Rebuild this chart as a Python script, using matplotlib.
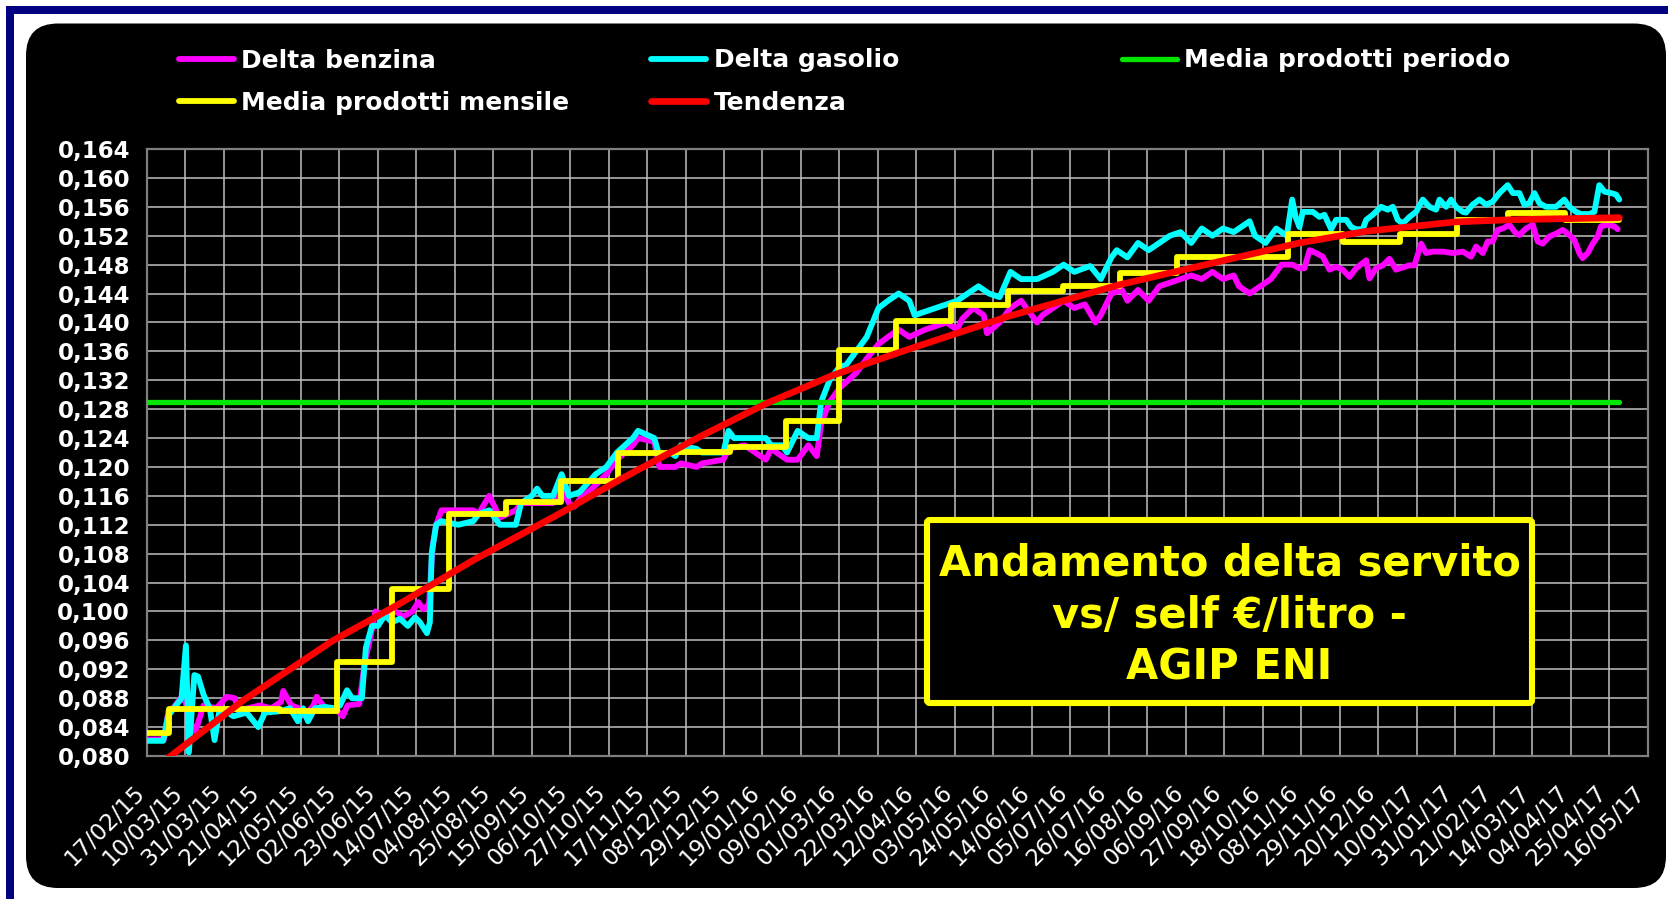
import numpy as np
import matplotlib
matplotlib.use('Agg')
import matplotlib.pyplot as plt
from matplotlib.patches import FancyBboxPatch, Rectangle
from matplotlib.transforms import IdentityTransform, ScaledTranslation
from matplotlib.ticker import FuncFormatter

# giorni contati dal 17/02/2015
etichette_date = ['17/02/15', '10/03/15', '31/03/15', '21/04/15', '12/05/15', '02/06/15',
                  '23/06/15', '14/07/15', '04/08/15', '25/08/15', '15/09/15', '06/10/15',
                  '27/10/15', '17/11/15', '08/12/15', '29/12/15', '19/01/16', '09/02/16',
                  '01/03/16', '22/03/16', '12/04/16', '03/05/16', '24/05/16', '14/06/16',
                  '05/07/16', '26/07/16', '16/08/16', '06/09/16', '27/09/16', '18/10/16',
                  '08/11/16', '29/11/16', '20/12/16', '10/01/17', '31/01/17', '21/02/17',
                  '14/03/17', '04/04/17', '25/04/17', '16/05/17']

giorni_benzina = [0, 9.5, 11.8, 15, 18.4, 21.2, 23, 26.6, 31, 38, 43.7, 48, 51, 55, 61.7, 68,
                  73.3, 74.5, 78.9, 84.3, 86, 91, 92.7, 97.3, 102.8, 107, 109.6, 116, 119, 121.7,
                  124.8, 130, 135.6, 140, 145, 148.2, 151, 154, 156, 158, 160.8, 178.2, 181,
                  186.9, 192.7, 201.4, 204.3, 221.7, 226.4, 230.4, 233.3, 236.2, 245, 250.8,
                  256.6, 265.3, 268.1, 276.9, 279.8, 288.5, 291.4, 300.1, 303, 314.6, 317.5,
                  326.2, 337.8, 340.7, 346.5, 349.4, 355.2, 361, 365.6, 368, 372.6, 378.4,
                  387.1, 392.9, 399.3, 404.5, 410.3, 416.1, 424.8, 436.4, 442.2, 445, 451,
                  456.7, 458.5, 465.4, 471.3, 477.1, 485.8, 488.7, 494.5, 500.3, 506.1, 511.9,
                  517.7, 520.6, 526.4, 532.2, 535.1, 540.9, 546.7, 552.5, 558.3, 564.1, 569.9,
                  575.7, 581.5, 587.3, 593.1, 596, 601.8, 607.6, 613.4, 619.2, 625, 629, 631.7,
                  634.5, 638.1, 641.7, 645.4, 649, 652.6, 656.3, 659.9, 665.4, 667.2, 670.8,
                  674.5, 678.1, 681.7, 689, 691.7, 695.4, 698.1, 701.7, 707.2, 712.6, 718.1,
                  722.6, 725.4, 729, 731.7, 734.4, 737.2, 739.9, 743.5, 747.2, 749, 752.6,
                  756.3, 759, 761.7, 765.4, 769, 772.6, 776.3, 779, 781.7, 783.5, 786.3, 789,
                  791.7, 793.5, 797.2, 800.8, 802.6]
delta_benzina = [0.0823, 0.0823, 0.0862, 0.0868, 0.0880, 0.0875, 0.0850, 0.0834, 0.0870, 0.0866,
                 0.0882, 0.0880, 0.0858, 0.0866, 0.0870, 0.0866, 0.0875, 0.0890, 0.0870, 0.0865,
                 0.0855, 0.0870, 0.0882, 0.0866, 0.0866, 0.0855, 0.0870, 0.0872, 0.0930, 0.0960,
                 0.1000, 0.0995, 0.1000, 0.0993, 0.1000, 0.1013, 0.1003, 0.1010, 0.1090, 0.1120,
                 0.1140, 0.1140, 0.1135, 0.1160, 0.1130, 0.1140, 0.1150, 0.1150, 0.1170, 0.1150,
                 0.1145, 0.1155, 0.1175, 0.1190, 0.1210, 0.1230, 0.1240, 0.1235, 0.1200, 0.1200,
                 0.1205, 0.1200, 0.1205, 0.1210, 0.1225, 0.1230, 0.1210, 0.1225, 0.1215, 0.1210,
                 0.1210, 0.1230, 0.1215, 0.1260, 0.1290, 0.1310, 0.1330, 0.1350, 0.1370, 0.1380,
                 0.1390, 0.1380, 0.1390, 0.1400, 0.1390, 0.1405, 0.1420, 0.1410, 0.1385, 0.1400,
                 0.1420, 0.1430, 0.1400, 0.1410, 0.1420, 0.1430, 0.1420, 0.1425, 0.1400, 0.1410,
                 0.1440, 0.1445, 0.1430, 0.1445, 0.1430, 0.1450, 0.1455, 0.1460, 0.1465, 0.1460,
                 0.1470, 0.1460, 0.1465, 0.1450, 0.1440, 0.1450, 0.1460, 0.1480, 0.1480, 0.1475,
                 0.1475, 0.1500, 0.1496, 0.1491, 0.1473, 0.1477, 0.1473, 0.1463, 0.1475, 0.1486,
                 0.1461, 0.1475, 0.1479, 0.1488, 0.1473, 0.1479, 0.1479, 0.1509, 0.1496, 0.1498,
                 0.1498, 0.1496, 0.1498, 0.1491, 0.1505, 0.1496, 0.1512, 0.1512, 0.1528, 0.1530,
                 0.1535, 0.1523, 0.1521, 0.1530, 0.1535, 0.1512, 0.1509, 0.1519, 0.1523, 0.1528,
                 0.1521, 0.1514, 0.1496, 0.1489, 0.1496, 0.1509, 0.1519, 0.1533, 0.1535, 0.1533,
                 0.1529]

giorni_gasolio = [0, 9, 11.6, 15.4, 19, 21.4, 23, 26, 28, 31, 34.5, 37, 39.5, 43, 47.3, 54.5,
                  60.9, 64.5, 72.7, 78.2, 82.5, 85.3, 88, 91.8, 97.3, 102.7, 105.5, 109.3, 112,
                  117.4, 119.6, 122.9, 126.2, 130, 133.8, 138.2, 142.5, 146.4, 149.1, 152.9,
                  154.5, 155.5, 157.9, 160.8, 170, 178.2, 181.1, 186.9, 192.7, 201.4, 204.3,
                  210.1, 213, 215.9, 221.7, 226.4, 230.4, 236.2, 245, 250.8, 256.6, 265.3,
                  268.1, 276.9, 279.8, 285.6, 288.5, 291.4, 300.1, 303, 314.6, 317.5, 320.4,
                  326.2, 337.8, 340.7, 346.5, 349.4, 355.2, 361, 365.6, 368, 372.6, 378.4,
                  381.3, 387.1, 392.9, 399.3, 404.5, 410.3, 416.1, 419, 424.8, 430.6, 436.4,
                  442.2, 448, 453.8, 459.6, 465.4, 471.3, 477.1, 485.8, 494.5, 500.3, 506.1,
                  514.8, 520.6, 526.4, 529.3, 535.1, 540.9, 546.7, 552.5, 558.3, 564.1, 569.9,
                  575.7, 581.5, 587.3, 593.1, 596, 601.8, 604.7, 610.5, 616.3, 622.1, 625, 627,
                  629, 630.8, 636.3, 639.9, 642.6, 646.3, 649, 654.5, 657.2, 659.9, 663.5,
                  665.4, 669, 673.5, 677.2, 679.9, 682.6, 685.4, 689, 692.6, 696.3, 699.9,
                  703.5, 705.4, 709, 711.7, 714.4, 718.1, 719.9, 723.5, 727.2, 730.8, 734.4,
                  738.1, 742.6, 745.4, 749, 751.7, 754.4, 757.2, 759.9, 763.5, 769, 773.5,
                  776.3, 779.9, 782.6, 787.2, 789.9, 792.6, 795.4, 799, 801.7, 803.5]
delta_gasolio = [0.0821, 0.0821, 0.0855, 0.0868, 0.0880, 0.0953, 0.0805, 0.0912, 0.0910, 0.0885,
                 0.0865, 0.0822, 0.0860, 0.0862, 0.0855, 0.0860, 0.0840, 0.0860, 0.0862, 0.0866,
                 0.0848, 0.0866, 0.0848, 0.0866, 0.0868, 0.0866, 0.0870, 0.0891, 0.0880, 0.0880,
                 0.0950, 0.0980, 0.0980, 0.0995, 0.0985, 0.0990, 0.0980, 0.0992, 0.0985, 0.0970,
                 0.0985, 0.1080, 0.1120, 0.1125, 0.1120, 0.1125, 0.1135, 0.1140, 0.1120, 0.1120,
                 0.1150, 0.1160, 0.1170, 0.1160, 0.1160, 0.1190, 0.1160, 0.1165, 0.1190, 0.1200,
                 0.1220, 0.1240, 0.1250, 0.1240, 0.1215, 0.1220, 0.1215, 0.1230, 0.1225, 0.1220,
                 0.1220, 0.1250, 0.1240, 0.1240, 0.1240, 0.1230, 0.1230, 0.1220, 0.1250, 0.1240,
                 0.1240, 0.1290, 0.1320, 0.1340, 0.1340, 0.1360, 0.1380, 0.1420, 0.1430, 0.1440,
                 0.1430, 0.1410, 0.1415, 0.1420, 0.1425, 0.1430, 0.1440, 0.1450, 0.1440, 0.1435,
                 0.1470, 0.1460, 0.1460, 0.1470, 0.1480, 0.1470, 0.1478, 0.1460, 0.1490, 0.1500,
                 0.1490, 0.1510, 0.1500, 0.1510, 0.1520, 0.1525, 0.1510, 0.1530, 0.1520, 0.1530,
                 0.1525, 0.1530, 0.1540, 0.1520, 0.1510, 0.1530, 0.1520, 0.1570, 0.1545, 0.1532,
                 0.1553, 0.1553, 0.1546, 0.1549, 0.1529, 0.1542, 0.1542, 0.1532, 0.1529, 0.1529,
                 0.1542, 0.1549, 0.1560, 0.1556, 0.1560, 0.1542, 0.1537, 0.1546, 0.1553, 0.1570,
                 0.1560, 0.1556, 0.1570, 0.1560, 0.1570, 0.1560, 0.1553, 0.1552, 0.1563, 0.1570,
                 0.1563, 0.1567, 0.1579, 0.1590, 0.1579, 0.1579, 0.1563, 0.1565, 0.1579, 0.1565,
                 0.1560, 0.1560, 0.1570, 0.1560, 0.1553, 0.1550, 0.1550, 0.1553, 0.1590, 0.1581,
                 0.1579, 0.1577, 0.1570]

media_periodo = 0.1290
ultimo_giorno = 803.5

# inizio di ogni mese (giorni) e media mensile dei due prodotti
mesi_inizio = [0, 12, 43, 73, 104, 134, 165, 196, 226, 257, 287, 318, 349, 378, 409, 439,
               470, 500, 531, 562, 592, 623, 653, 684, 715, 743, 774]
media_mensile = [0.0832, 0.0865, 0.0865, 0.0862, 0.0930, 0.1031, 0.1135, 0.1152, 0.1181,
                 0.1219, 0.1221, 0.1228, 0.1263, 0.1362, 0.1402, 0.1424, 0.1443, 0.1450,
                 0.1469, 0.1490, 0.1490, 0.1522, 0.1511, 0.1522, 0.1542, 0.1552, 0.1542]

giorni_tendenza = [0, 13.6, 52.7, 101.8, 138.2, 178.2, 225, 260, 301.9, 338.2, 374.5, 414.6,
                   469.6, 530.5, 591.5, 629, 665, 713.6, 742.6, 803.5]
tendenza = [0.0775, 0.0801, 0.0877, 0.0960, 0.1011, 0.1071, 0.1135, 0.1185, 0.1242, 0.1288,
            0.1327, 0.1362, 0.1408, 0.1452, 0.1488, 0.1510, 0.1526, 0.1539, 0.1542, 0.1545]

titolo = ['Andamento delta servito', 'vs/ self \u20ac/litro -', 'AGIP ENI']

W, H, DPI = 1668, 899, 100
fig = plt.figure(figsize=(W / DPI, H / DPI), dpi=DPI, facecolor='white')
pix = IdentityTransform()

# cornice blu e pannello nero arrotondato
fig.add_artist(Rectangle((5.5, 0), W, H - 5.5, transform=pix, facecolor='#000080',
                         edgecolor='none', zorder=-10))
fig.add_artist(Rectangle((14, 0), W, H - 14, transform=pix, facecolor='white',
                         edgecolor='none', zorder=-9))
fig.add_artist(FancyBboxPatch((26, H - 888), 1640, 888 - 23.5,
                              boxstyle='round,pad=0,rounding_size=32', transform=pix,
                              facecolor='black', edgecolor='none', zorder=-8))

ax = fig.add_axes([146.7 / W, 1 - 756 / H, (1647.7 - 146.7) / W, (756 - 149) / H])
ax.set_facecolor('black')

lw = 4.2
l_benz, = ax.plot(giorni_benzina, delta_benzina, color='#ff00ff', lw=lw, label='Delta benzina',
                  solid_joinstyle='round', solid_capstyle='round', zorder=2)
l_gas, = ax.plot(giorni_gasolio, delta_gasolio, color='#00ffff', lw=lw, label='Delta gasolio',
                 solid_joinstyle='round', solid_capstyle='round', zorder=3)
l_per, = ax.plot([0, ultimo_giorno], [media_periodo, media_periodo], color='#00e600', lw=3.8,
                 label='Media prodotti periodo', solid_capstyle='round', zorder=4)
l_mens, = ax.plot(mesi_inizio + [ultimo_giorno], media_mensile + [media_mensile[-1]],
                  drawstyle='steps-post', color='#ffff00', lw=lw, label='Media prodotti mensile',
                  solid_joinstyle='round', solid_capstyle='round', zorder=5)
l_tend, = ax.plot(giorni_tendenza, tendenza, color='#ff0000', lw=4.8, label='Tendenza',
                  solid_joinstyle='round', solid_capstyle='round', zorder=6)

ax.set_xlim(0, 819)
ax.set_ylim(0.080, 0.164)
ax.set_yticks(np.arange(0.080, 0.1645, 0.004))
ax.yaxis.set_major_formatter(FuncFormatter(lambda v, p: f'{v:.3f}'.replace('.', ',')))
ax.tick_params(axis='both', length=0, colors='white')
ax.tick_params(axis='y', pad=12, labelsize=16.5)
ax.tick_params(axis='x', pad=18, labelsize=16.5)
for t in ax.get_yticklabels():
    t.set_fontweight('bold')
ax.set_xticks(np.arange(len(etichette_date)) * 21)
ax.set_xticklabels(etichette_date, rotation=45, ha='right', va='top', rotation_mode='anchor')
shift = ScaledTranslation(-14 / DPI, 0, fig.dpi_scale_trans)
for t in ax.get_xticklabels():
    t.set_transform(t.get_transform() + shift)

ax.grid(True, color='#c0c0c0', lw=1.1)
ax.set_axisbelow(True)
for s in ax.spines.values():
    s.set_color('#7f7f7f')
    s.set_linewidth(1.6)

# legenda su due righe, tre colonne
colonne = [([l_benz, l_mens], 178.7), ([l_gas, l_tend], 651), ([l_per], 1122)]
for linee, x in colonne:
    fig.legend(linee, [l.get_label() for l in linee], loc='upper left',
               bbox_to_anchor=(x / W, 1 - 48.5 / H), frameon=False, labelcolor='white',
               prop={'weight': 'bold', 'size': 18}, handlelength=2.2, handletextpad=0.3,
               labelspacing=0.73, borderpad=0, borderaxespad=0)

# riquadro del titolo
fig.add_artist(FancyBboxPatch((927, H - 703), 605, 183, boxstyle='round,pad=0,rounding_size=3',
                              transform=pix, facecolor='black', edgecolor='#ffff00',
                              lw=4.4, zorder=5))
for riga, yb in zip(titolo, [575, 628, 680]):
    fig.text(1229.5 / W, 1 - yb / H, riga, ha='center', va='baseline', color='#ffff00',
             fontsize=30, fontweight='bold', zorder=6)

fig.savefig('out.png', dpi=DPI, facecolor='white')
